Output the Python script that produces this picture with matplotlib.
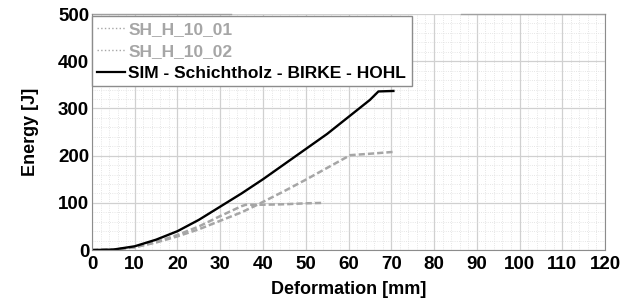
import matplotlib
import matplotlib.pyplot as plt
from matplotlib.ticker import MultipleLocator

matplotlib.rcParams["font.family"] = "Liberation Sans"
matplotlib.rcParams["font.weight"] = "bold"

# ── Data ───────────────────────────────────────────────────────────────────────
x_01 = [0, 5, 10, 15, 20, 25, 30, 35, 36, 40, 45, 50, 54.3]
e_01 = [0, 1, 6, 17, 32, 50, 72, 93, 96, 96, 97, 99, 100]

x_02 = [0, 5, 10, 15, 20, 25, 30, 35, 38, 40, 45, 50, 55, 60.4, 65, 70.6]
e_02 = [0, 1, 6, 16, 29, 44, 62, 80, 93, 102, 125, 149, 174, 201, 204, 208]

x_sim = [0, 5, 10, 15, 20, 25, 30, 35, 40, 45, 50, 55, 60, 65, 67, 70.5]
e_sim = [0, 1, 8, 22, 40, 64, 92, 120, 150, 182, 214, 246, 282, 318, 336, 337]

labels = ["SH_H_10_01", "SH_H_10_02", "SIM - Schichtholz - BIRKE - HOHL"]

# ── Figure ─────────────────────────────────────────────────────────────────────
fig = plt.figure(figsize=(6.24, 3.02), dpi=100)
ax = fig.add_axes([0.1474, 0.172, 0.8222, 0.7816])

gray = "#a6a6a6"
ax.plot(x_01, e_01, color=gray, lw=1.8, ls=(0, (2.5, 1.2)))
ax.plot(x_02, e_02, color=gray, lw=1.8, ls=(0, (2.5, 1.2)))
ax.plot(x_sim, e_sim, color="black", lw=1.7)

ax.set_xlim(0, 120)
ax.set_ylim(0, 500)
ax.xaxis.set_major_locator(MultipleLocator(10))
ax.xaxis.set_minor_locator(MultipleLocator(2))
ax.yaxis.set_major_locator(MultipleLocator(100))
ax.yaxis.set_minor_locator(MultipleLocator(20))
ax.grid(which="major", color="#d0d0d0", lw=0.9)
ax.grid(which="minor", color="#dedede", lw=0.6, ls=":")
ax.set_axisbelow(True)
ax.tick_params(which="both", length=0, labelsize=13.5)
ax.tick_params(axis="x", pad=4)
ax.tick_params(axis="y", pad=2)

for side in ["left", "bottom", "right"]:
    ax.spines[side].set_color("#8c8c8c")
ax.spines["top"].set_visible(False)
# top border is broken in the original picture
ax.plot([0, 0.27], [1, 1], transform=ax.transAxes, color="#a0a0a0", lw=1, clip_on=False)
ax.plot([0.72, 1], [1, 1], transform=ax.transAxes, color="#a0a0a0", lw=1, clip_on=False)

ax.set_xlabel("Deformation [mm]", fontsize=13, fontweight="bold", labelpad=6)
ax.set_ylabel("Energy [J]", fontsize=13, fontweight="bold", labelpad=14)

h1 = matplotlib.lines.Line2D([], [], color=gray, lw=1, ls=":")
h2 = matplotlib.lines.Line2D([], [], color=gray, lw=1, ls=":")
h3 = matplotlib.lines.Line2D([], [], color="black", lw=1.6)
leg = ax.legend(
    [h1, h2, h3], labels,
    loc="upper left", bbox_to_anchor=(0.0, 0.99),
    fontsize=12.5, frameon=True, fancybox=False, edgecolor="#8c8c8c",
    framealpha=1, borderpad=0.3, labelspacing=0.4,
    handlelength=1.6, handletextpad=0.2, borderaxespad=0,
)
leg.get_frame().set_linewidth(1)
for txt, col in zip(leg.get_texts(), [gray, gray, "black"]):
    txt.set_color(col)
    txt.set_fontweight("bold")

fig.savefig("out.png", dpi=100)
